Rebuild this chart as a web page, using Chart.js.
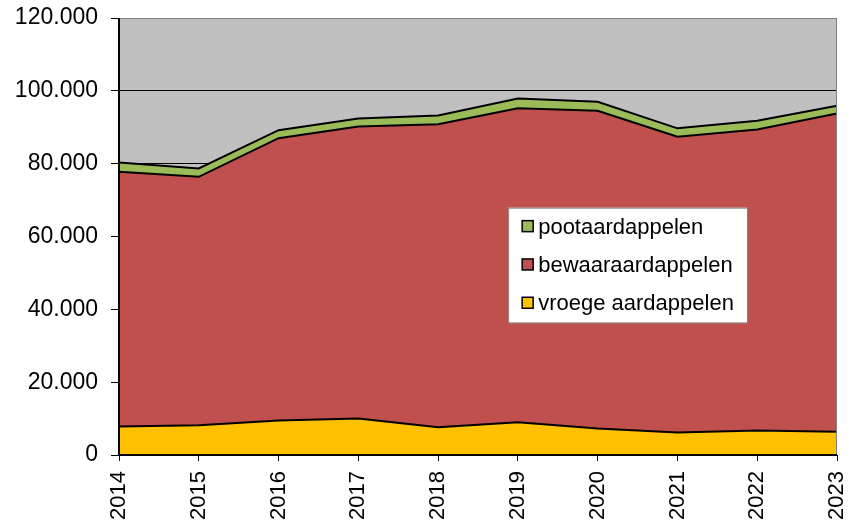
<!DOCTYPE html>
<html>
<head>
<meta charset="utf-8">
<script src="https://cdn.jsdelivr.net/npm/chart.js@4/dist/chart.umd.min.js"></script>
<style>
  html, body { margin: 0; padding: 0; background: #fff; }
  canvas { display: block; }
</style>
</head>
<body>
<canvas id="chart" width="849" height="529"></canvas>
<script>
// Data (hectares)
const years = ['2014', '2015', '2016', '2017', '2018', '2019', '2020', '2021', '2022', '2023'];
const vroege = [7800, 8200, 9500, 10000, 7600, 9000, 7300, 6200, 6700, 6400];
const bewaar = [70000, 68200, 77500, 80200, 83200, 86200, 87200, 81200, 82700, 87400];
const poot = [2500, 2300, 2200, 2200, 2400, 2700, 2500, 2300, 2400, 2100];
const yTicks = [0, 20000, 40000, 60000, 80000, 100000, 120000];

const FONT = 'Liberation Sans, Arial, sans-serif';

// Dutch thousands separator
function fmt(v) {
  return String(v).replace(/\B(?=(\d{3})+(?!\d))/g, '.');
}

// Gray plot background + border round the plot area
const plotBackground = {
  id: 'plotBackground',
  beforeDraw(chart) {
    const { ctx, chartArea: a } = chart;
    ctx.save();
    ctx.fillStyle = '#c0c0c0';
    ctx.fillRect(a.left, a.top, a.right - a.left, a.bottom - a.top);
    ctx.restore();
  },
  afterDatasetsDraw(chart) {
    const { ctx, chartArea: a } = chart;
    ctx.save();
    ctx.strokeStyle = '#808080';
    ctx.lineWidth = 1;
    ctx.beginPath();
    ctx.moveTo(a.left, a.top + 0.5);
    ctx.lineTo(a.right - 0.5, a.top + 0.5);
    ctx.lineTo(a.right - 0.5, a.bottom);
    ctx.stroke();
    ctx.strokeStyle = '#000';
    ctx.lineWidth = 2;
    ctx.beginPath();
    ctx.moveTo(a.left, a.top);
    ctx.lineTo(a.left, a.bottom);
    ctx.lineTo(a.right, a.bottom);
    ctx.stroke();
    ctx.restore();
  }
};

// Legend box drawn inside the plot area
const boxLegend = {
  id: 'boxLegend',
  afterDraw(chart) {
    const { ctx, chartArea: a } = chart;
    const w = a.right - a.left, h = a.bottom - a.top;
    const x = a.left + w * 0.542, y = a.top + h * 0.434;
    const bw = 239, bh = 115;
    ctx.save();
    ctx.fillStyle = '#fff';
    ctx.fillRect(x, y, bw, bh);
    ctx.strokeStyle = '#808080';
    ctx.lineWidth = 1;
    ctx.strokeRect(x + 0.5, y + 0.5, bw, bh);
    ctx.font = '22px ' + FONT;
    ctx.textBaseline = 'middle';
    const items = chart.data.datasets.slice().reverse();
    items.forEach((ds, i) => {
      const cy = y + 19 + i * 38.3;
      ctx.fillStyle = ds.backgroundColor;
      ctx.fillRect(x + 14, cy - 6, 11, 11);
      ctx.strokeStyle = '#000';
      ctx.lineWidth = 1.5;
      ctx.strokeRect(x + 14, cy - 6, 11, 11);
      ctx.fillStyle = '#000';
      ctx.fillText(ds.label, x + 30, cy + 1);
    });
    ctx.restore();
  }
};

function series(label, data, color, fill) {
  return {
    label,
    data,
    backgroundColor: color,
    borderColor: '#000',
    borderWidth: 2,
    fill,
    pointRadius: 0,
    tension: 0
  };
}

new Chart(document.getElementById('chart'), {
  type: 'line',
  data: {
    labels: years,
    datasets: [
      series('vroege aardappelen', vroege, '#ffc000', 'origin'),
      series('bewaaraardappelen', bewaar, '#c0504d', '-1'),
      series('pootaardappelen', poot, '#9bbb59', '-1')
    ]
  },
  options: {
    responsive: false,
    animation: false,
    layout: { padding: { top: 18, right: 12, left: 0, bottom: 0 } },
    plugins: {
      legend: { display: false },
      tooltip: { enabled: false }
    },
    scales: {
      x: {
        offset: false,
        grid: { drawOnChartArea: false, color: '#000', tickLength: 6 },
        border: { display: false },
        ticks: {
          color: '#000',
          font: { family: FONT, size: 22 },
          maxRotation: 90,
          minRotation: 90,
          autoSkip: false,
          padding: 10
        },
        afterFit(scale) {
          scale.height = 74;
          scale.paddingLeft = 0;
          scale.paddingRight = 0;
        }
      },
      y: {
        stacked: true,
        min: 0,
        max: 120000,
        afterBuildTicks(scale) { scale.ticks = yTicks.map(v => ({ value: v })); },
        grid: { color: '#000', lineWidth: 1, tickLength: 8 },
        border: { display: false },
        ticks: {
          color: '#000',
          font: { family: FONT, size: 23 },
          padding: 13,
          callback: v => fmt(v)
        },
        afterFit(scale) {
          scale.width = 119;
          scale.paddingTop = 0;
          scale.paddingBottom = 0;
        }
      }
    }
  },
  plugins: [plotBackground, boxLegend]
});
</script>
</body>
</html>
